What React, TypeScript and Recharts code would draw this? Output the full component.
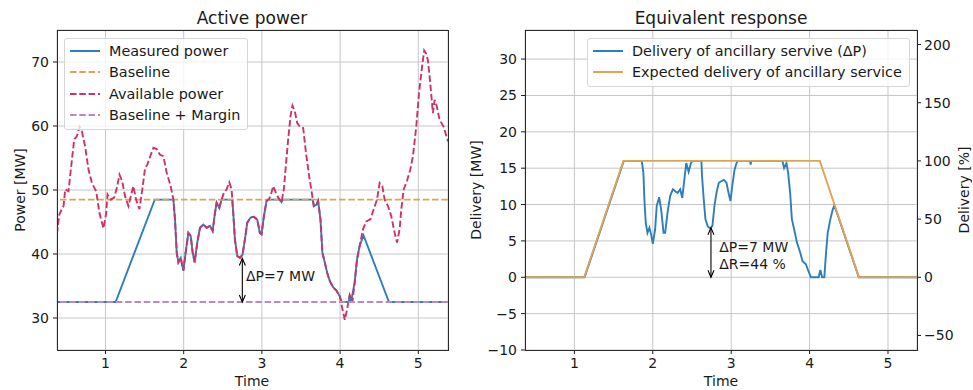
import React from 'react';
import { LineChart, Line, XAxis, YAxis, CartesianGrid, ReferenceLine, ReferenceDot } from 'recharts';

// colours
const BLUE = '#2f7ebc';
const ORANGE = '#e0a453';
const CRIMSON = '#cc3366';
const LAVENDER = '#b78cc2';
const FONT = '"DejaVu Sans", Verdana, sans-serif';

const TIME_TICKS = [1, 2, 3, 4, 5];
const POWER_TICKS = [30, 40, 50, 60, 70];
const DELIVERY_TICKS = [-10, -5, 0, 5, 10, 15, 20, 25, 30];
const PCT_TICKS = [-50, 0, 50, 100, 150, 200];

// [time, MW]
const AVAILABLE: [number, number][] = [
  [0.379, 43.1], [0.41, 46.2], [0.464, 47.5], [0.485, 50.1], [0.527, 49.8], [0.557, 53.2],
  [0.6, 57.9], [0.634, 58.4], [0.668, 59.9], [0.698, 59.2], [0.74, 56.8], [0.783, 53.2],
  [0.826, 51.1], [0.881, 49.8], [0.923, 46.4], [0.974, 44.0], [1.009, 46.4], [1.026, 49.3],
  [1.068, 48.5], [1.11, 48.8], [1.145, 50.3], [1.179, 52.4], [1.213, 51.4], [1.251, 49.0],
  [1.294, 47.5], [1.323, 49.0], [1.357, 50.6], [1.391, 48.5], [1.434, 47.0], [1.477, 50.6],
  [1.506, 53.4], [1.536, 54.0], [1.579, 55.5], [1.613, 56.6], [1.655, 56.4], [1.698, 55.5],
  [1.74, 55.3], [1.783, 52.7], [1.834, 50.6], [1.868, 48.5], [1.889, 45.4], [1.911, 40.2],
  [1.932, 38.7], [1.962, 39.4], [1.996, 37.4], [2.03, 40.7], [2.06, 43.3], [2.09, 42.8],
  [2.115, 40.2], [2.14, 38.7], [2.174, 41.8], [2.209, 44.1], [2.251, 44.6], [2.294, 44.1],
  [2.336, 44.4], [2.37, 43.6], [2.4, 46.4], [2.421, 48.0], [2.455, 47.2], [2.485, 48.5],
  [2.515, 49.6], [2.549, 50.1], [2.583, 51.2], [2.613, 50.1], [2.634, 46.4], [2.655, 42.3],
  [2.685, 39.7], [2.72, 39.4], [2.753, 39.9], [2.783, 42.3], [2.813, 44.9], [2.855, 45.7],
  [2.898, 45.8], [2.94, 45.4], [2.974, 43.3], [2.996, 43.1], [3.026, 45.9], [3.06, 48.3],
  [3.094, 48.6], [3.123, 49.6], [3.145, 50.6], [3.179, 49.6], [3.209, 48.8], [3.251, 48.1],
  [3.281, 50.1], [3.306, 53.7], [3.336, 57.9], [3.366, 61.5], [3.391, 63.2], [3.421, 62.3],
  [3.451, 60.5], [3.485, 59.9], [3.528, 59.7], [3.562, 56.0], [3.604, 52.2], [3.638, 49.6],
  [3.664, 47.5], [3.698, 47.7], [3.719, 48.3], [3.749, 45.4], [3.774, 40.2], [3.804, 38.7],
  [3.834, 37.1], [3.868, 35.8], [3.911, 34.8], [3.953, 34.3], [3.996, 33.4], [4.03, 31.4],
  [4.06, 29.7], [4.09, 31.4], [4.123, 33.6], [4.157, 32.5], [4.187, 35.6], [4.217, 39.2],
  [4.251, 41.3], [4.294, 43.9], [4.336, 45.1], [4.387, 45.4], [4.43, 47.0], [4.472, 48.5],
  [4.506, 51.1], [4.54, 50.6], [4.57, 48.5], [4.613, 47.5], [4.655, 45.9], [4.698, 43.3],
  [4.728, 41.8], [4.762, 43.9], [4.783, 47.0], [4.813, 50.1], [4.855, 51.4], [4.898, 53.2],
  [4.932, 55.3], [4.974, 59.9], [5.009, 65.1], [5.038, 68.2], [5.075, 71.8], [5.1, 71.3],
  [5.123, 70.3], [5.153, 66.7], [5.187, 62.0], [5.209, 64.1], [5.238, 63.0], [5.272, 61.0],
  [5.323, 59.9], [5.38, 57.6],
];

const MEASURED: [number, number][] = [
  [0.3, 32.5], [1.13, 32.5], [1.63, 48.5], [1.868, 48.5], [1.889, 45.4], [1.911, 40.2],
  [1.932, 38.7], [1.962, 39.4], [1.996, 37.4], [2.03, 40.7], [2.06, 43.3], [2.09, 42.8],
  [2.115, 40.2], [2.14, 38.7], [2.174, 41.8], [2.209, 44.1], [2.251, 44.6], [2.294, 44.1],
  [2.336, 44.4], [2.37, 43.6], [2.4, 46.4], [2.421, 48.0], [2.455, 47.2], [2.485, 48.5],
  [2.62, 48.5], [2.634, 46.4], [2.655, 42.3], [2.685, 39.7], [2.72, 39.4], [2.753, 39.9],
  [2.783, 42.3], [2.813, 44.9], [2.855, 45.7], [2.898, 45.8], [2.94, 45.4], [2.974, 43.3],
  [2.996, 43.1], [3.026, 45.9], [3.06, 48.3], [3.08, 48.5], [3.23, 48.5], [3.251, 48.1],
  [3.27, 48.5], [3.65, 48.5], [3.664, 47.5], [3.698, 47.7], [3.719, 48.3], [3.749, 45.4],
  [3.774, 40.2], [3.804, 38.7], [3.834, 37.1], [3.868, 35.8], [3.911, 34.8], [3.953, 34.3],
  [3.996, 33.4], [4.02, 32.5], [4.11, 32.5], [4.123, 33.5], [4.14, 32.5], [4.187, 35.6],
  [4.217, 39.2], [4.251, 41.3], [4.3, 42.9], [4.625, 32.5], [5.5, 32.5],
];

const BASELINE: [number, number][] = [[0.3, 48.5], [5.5, 48.5]];
const BASELINE_MARGIN: [number, number][] = [[0.3, 32.5], [5.5, 32.5]];

// [time, MW] delivered
const DELIVERY: [number, number][] = [
  [0.3, 0], [1.13, 0], [1.63, 16], [1.859, 16], [1.88, 14.4], [1.893, 10.7], [1.91, 7.5],
  [1.932, 6.1], [1.957, 6.8], [1.979, 5.9], [2.0, 4.6], [2.03, 6.6], [2.05, 9.8], [2.081, 11.0],
  [2.107, 9.3], [2.137, 6.1], [2.158, 6.1], [2.188, 8.9], [2.222, 11.2], [2.256, 12.1],
  [2.29, 11.8], [2.316, 11.6], [2.35, 12.1], [2.376, 10.9], [2.402, 13.4], [2.427, 15.7],
  [2.457, 14.5], [2.487, 15.7], [2.504, 16], [2.62, 16], [2.628, 13.9], [2.65, 10.7],
  [2.671, 8.0], [2.701, 7.0], [2.735, 6.7], [2.761, 7.1], [2.786, 9.8], [2.812, 11.6],
  [2.842, 13.0], [2.872, 13.2], [2.906, 13.4], [2.94, 13.0], [2.97, 11.4], [2.991, 10.5],
  [3.013, 12.5], [3.043, 14.8], [3.068, 15.7], [3.085, 16], [3.24, 16], [3.248, 15.5],
  [3.256, 16], [3.654, 16], [3.675, 15.0], [3.705, 15.7], [3.726, 14.4], [3.752, 11.6],
  [3.774, 8.0], [3.803, 6.6], [3.838, 4.8], [3.88, 3.4], [3.91, 2.2], [3.953, 1.8],
  [3.983, 0.9], [4.017, 0], [4.115, 0], [4.137, 1.0], [4.16, 0], [4.188, 0], [4.21, 3.4],
  [4.231, 6.1], [4.265, 8.0], [4.295, 9.3], [4.316, 9.9], [4.628, 0], [5.5, 0],
];

const EXPECTED: [number, number][] = [
  [0.3, 0], [1.125, 0], [1.625, 16], [4.13, 16], [4.63, 0], [5.5, 0],
];

const rows = (pts: [number, number][]) => pts.map(([t, v]) => ({ t, v }));
const minus = (v: number) => String(v).replace('-', '\u2212');

const tickStyle = { fill: '#1a1a1a', fontSize: 14, fontFamily: FONT };

const arrowShape = (p: any) => {
  const { x1, y1, x2, y2 } = p;
  const top = Math.min(y1, y2);
  const bot = Math.max(y1, y2);
  return (
    <g stroke="#000" strokeWidth={1.1} fill="none">
      <line x1={x1} y1={top} x2={x2} y2={bot} />
      <polyline points={`${x1 - 3},${top + 7} ${x1},${top} ${x1 + 3},${top + 7}`} />
      <polyline points={`${x1 - 3},${bot - 7} ${x1},${bot} ${x1 + 3},${bot - 7}`} />
    </g>
  );
};

const textShape = (label: string) => (p: any) => (
  <text x={p.cx} y={p.cy} dy="0.36em" fontSize={14} fontFamily={FONT} fill="#1a1a1a">
    {label}
  </text>
);

function Txt({ x, y, size = 14, rotate = false, children }: any) {
  return (
    <div
      style={{
        position: 'absolute',
        left: x,
        top: y,
        transform: `translate(-50%, -50%)${rotate ? ' rotate(-90deg)' : ''}`,
        fontSize: size,
        fontFamily: FONT,
        color: '#1a1a1a',
        whiteSpace: 'nowrap',
        lineHeight: 1,
      }}
    >
      {children}
    </div>
  );
}

function LegendBox({ left, top, width, items }: any) {
  return (
    <div
      style={{
        position: 'absolute',
        left,
        top,
        width,
        boxSizing: 'border-box',
        padding: '1px 0 3px 0',
        background: 'rgba(255,255,255,0.8)',
        border: '1px solid #d6d6d6',
        borderRadius: 3,
        fontFamily: FONT,
        fontSize: 14.4,
        color: '#1a1a1a',
      }}
    >
      {items.map((it: any) => (
        <div key={it.label} style={{ display: 'flex', alignItems: 'center', height: 21.5 }}>
          <svg width={40} height={10} style={{ marginLeft: 4, flex: 'none' }}>
            <line x1={1} y1={5} x2={31} y2={5} stroke={it.color} strokeWidth={2} strokeDasharray={it.dash} />
          </svg>
          <span>{it.label}</span>
        </div>
      ))}
    </div>
  );
}

const frame = (left: number, top: number, width: number, height: number) => (
  <div
    style={{
      position: 'absolute',
      left,
      top,
      width,
      height,
      boxSizing: 'border-box',
      border: '1px solid #2a2a2a',
      pointerEvents: 'none',
    }}
  />
);

export default function App() {
  return (
    <div style={{ position: 'absolute', left: 0, top: 0, width: 973, height: 390, background: '#fff' }}>
      {/* Active power */}
      <div style={{ position: 'absolute', left: 0, top: 0 }}>
        <LineChart width={460} height={390} margin={{ top: 30, right: 12, bottom: 0, left: 0 }}>
          <CartesianGrid stroke="#c6c6c6" strokeWidth={1} />
          <XAxis
            dataKey="t"
            type="number"
            domain={[0.38, 5.38]}
            allowDataOverflow
            ticks={TIME_TICKS}
            height={40}
            tick={tickStyle}
            tickSize={4}
            tickMargin={4}
            axisLine={false}
            tickLine={{ stroke: '#1a1a1a' }}
          />
          <YAxis
            type="number"
            domain={[25, 75]}
            allowDataOverflow
            ticks={POWER_TICKS}
            width={57}
            tick={tickStyle}
            tickSize={4}
            tickMargin={4}
            axisLine={false}
            tickLine={{ stroke: '#1a1a1a' }}
          />
          <Line data={rows(MEASURED)} dataKey="v" stroke={BLUE} strokeWidth={1.9} dot={false} isAnimationActive={false} />
          <Line data={rows(BASELINE)} dataKey="v" stroke={ORANGE} strokeWidth={1.9} strokeDasharray="6.5 2.8" dot={false} isAnimationActive={false} />
          <Line data={rows(AVAILABLE)} dataKey="v" stroke={CRIMSON} strokeWidth={1.9} strokeDasharray="6.5 2.8" dot={false} isAnimationActive={false} />
          <Line data={rows(BASELINE_MARGIN)} dataKey="v" stroke={LAVENDER} strokeWidth={1.9} strokeDasharray="6.5 2.8" dot={false} isAnimationActive={false} />
          <ReferenceLine segment={[{ x: 2.75, y: 32.5 }, { x: 2.75, y: 39.3 }]} shape={arrowShape} />
          <ReferenceDot x={2.797} y={36.56} r={0} shape={textShape('ΔP=7 MW')} />
        </LineChart>
      </div>

      {/* Equivalent response */}
      <div style={{ position: 'absolute', left: 460, top: 0 }}>
        <LineChart width={513} height={390} margin={{ top: 30, right: 0, bottom: 0, left: 0 }}>
          <CartesianGrid stroke="#c6c6c6" strokeWidth={1} />
          <XAxis
            dataKey="t"
            type="number"
            domain={[0.37, 5.37]}
            allowDataOverflow
            ticks={TIME_TICKS}
            height={40}
            tick={tickStyle}
            tickSize={4}
            tickMargin={4}
            axisLine={false}
            tickLine={{ stroke: '#1a1a1a' }}
          />
          <YAxis
            type="number"
            domain={[-10, 34]}
            allowDataOverflow
            ticks={DELIVERY_TICKS}
            tickFormatter={minus}
            width={65}
            tick={tickStyle}
            tickSize={4}
            tickMargin={4}
            axisLine={false}
            tickLine={{ stroke: '#1a1a1a' }}
          />
          <YAxis
            yAxisId="pct"
            orientation="right"
            type="number"
            domain={[-62.5, 212.5]}
            allowDataOverflow
            ticks={PCT_TICKS}
            tickFormatter={minus}
            width={56}
            tick={tickStyle}
            tickSize={4}
            tickMargin={3}
            axisLine={false}
            tickLine={{ stroke: '#1a1a1a' }}
          />
          <Line data={rows(DELIVERY)} dataKey="v" stroke={BLUE} strokeWidth={1.9} dot={false} isAnimationActive={false} />
          <Line data={rows(EXPECTED)} dataKey="v" stroke={ORANGE} strokeWidth={1.9} dot={false} isAnimationActive={false} />
          <ReferenceLine segment={[{ x: 2.742, y: 0 }, { x: 2.742, y: 6.8 }]} shape={arrowShape} />
          <ReferenceDot x={2.848} y={4.1} r={0} shape={textShape('ΔP=7 MW')} />
          <ReferenceDot x={2.848} y={1.8} r={0} shape={textShape('ΔR=44 %')} />
        </LineChart>
      </div>

      {frame(57, 30, 392, 321)}
      {frame(525, 30, 393, 321)}

      <Txt x={252} y={18} size={17}>Active power</Txt>
      <Txt x={721} y={18} size={17}>Equivalent response</Txt>
      <Txt x={252} y={381}>Time</Txt>
      <Txt x={721} y={381}>Time</Txt>
      <Txt x={20} y={190} rotate>Power [MW]</Txt>
      <Txt x={476} y={190} rotate>Delivery [MW]</Txt>
      <Txt x={964} y={190} rotate>Delivery [%]</Txt>

      <LegendBox
        left={64}
        top={38}
        width={184}
        items={[
          { label: 'Measured power', color: BLUE },
          { label: 'Baseline', color: ORANGE, dash: '6.5 2.8' },
          { label: 'Available power', color: CRIMSON, dash: '6.5 2.8' },
          { label: 'Baseline + Margin', color: LAVENDER, dash: '6.5 2.8' },
        ]}
      />
      <LegendBox
        left={587}
        top={38}
        width={323}
        items={[
          { label: 'Delivery of ancillary servive (ΔP)', color: BLUE },
          { label: 'Expected delivery of ancillary service', color: ORANGE },
        ]}
      />
    </div>
  );
}
